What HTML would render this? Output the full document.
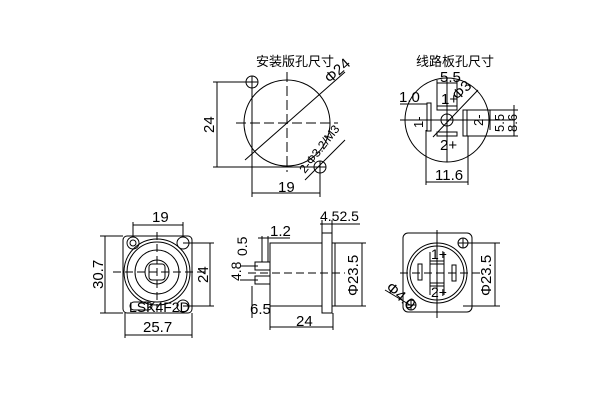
<!DOCTYPE html>
<html><head><meta charset="utf-8"><style>
html,body{margin:0;padding:0;background:#fff;width:600px;height:400px;overflow:hidden}
text{font-family:"Liberation Sans","Noto Sans CJK SC",sans-serif;fill:#000}
</style></head><body>
<svg width="600" height="400" viewBox="0 0 600 400" xmlns="http://www.w3.org/2000/svg">
<g stroke="#000" stroke-width="1" fill="none">
<!-- Panel 1 -->
<circle cx="287" cy="123" r="43"/>
<circle cx="252" cy="82" r="6"/><circle cx="320" cy="167" r="6"/>
<path d="M246 82h12M252 76v12M314 167h12M320 161v12"/>
<line x1="287" y1="72" x2="287" y2="172" stroke-dasharray="10,4"/>
<line x1="236" y1="123" x2="338" y2="123" stroke-dasharray="10,4"/>
<line x1="245" y1="160" x2="345" y2="72"/>
<line x1="305" y1="180" x2="345" y2="140"/>
<line x1="213" y1="82" x2="250" y2="82"/><line x1="213" y1="167" x2="316" y2="167"/>
<line x1="217" y1="82" x2="217" y2="167"/>
<line x1="252" y1="88" x2="252" y2="197"/><line x1="320" y1="173" x2="320" y2="197"/>
<line x1="252" y1="193" x2="320" y2="193"/>
<!-- Panel 2 -->
<circle cx="447" cy="120" r="42"/>
<circle cx="447" cy="120" r="6"/>
<line x1="400" y1="120" x2="515" y2="120"/>
<line x1="447" y1="78" x2="447" y2="162"/>
<rect x="427" y="103" width="4" height="28"/><rect x="463" y="110" width="4" height="26"/>
<rect x="437" y="106" width="20" height="4"/><rect x="437" y="132" width="20" height="4"/>
<line x1="433" y1="137" x2="478" y2="90"/>
<line x1="437" y1="80" x2="437" y2="106"/><line x1="457" y1="80" x2="457" y2="106"/>
<line x1="437" y1="83" x2="457" y2="83"/>
<line x1="400" y1="104" x2="427" y2="104"/>
<line x1="426" y1="130" x2="426" y2="185"/><line x1="468" y1="136" x2="468" y2="185"/>
<line x1="426" y1="182" x2="468" y2="182"/>
<line x1="467" y1="110" x2="518" y2="110"/><line x1="467" y1="136" x2="518" y2="136"/>
<line x1="490" y1="110" x2="490" y2="130"/><line x1="514" y1="105" x2="514" y2="136"/>
<!-- Panel 3 -->
<rect x="123" y="236" width="69" height="77" rx="4"/>
<circle cx="157" cy="272" r="33"/><circle cx="157" cy="272" r="30"/>
<circle cx="157" cy="272" r="22"/><circle cx="157" cy="272" r="12"/>
<rect x="149" y="264" width="16" height="16" rx="3"/>
<circle cx="133" cy="243" r="6"/><circle cx="133" cy="243" r="3"/>
<circle cx="183" cy="243" r="6"/><circle cx="183" cy="306" r="6"/>
<rect x="130" y="302" width="22" height="8" rx="4"/>
<line x1="113" y1="272" x2="205" y2="272" stroke-dasharray="8,4"/>
<line x1="157" y1="232" x2="157" y2="312" stroke-dasharray="8,4"/>
<line x1="100" y1="236" x2="123" y2="236"/><line x1="100" y1="313" x2="123" y2="313"/>
<line x1="105" y1="236" x2="105" y2="313"/>
<line x1="183" y1="243" x2="214" y2="243"/><line x1="183" y1="306" x2="214" y2="306"/>
<line x1="210" y1="243" x2="210" y2="306"/>
<line x1="133" y1="222" x2="133" y2="237"/><line x1="183" y1="222" x2="183" y2="237"/>
<line x1="133" y1="225" x2="183" y2="225"/>
<line x1="125" y1="313" x2="125" y2="338"/><line x1="192" y1="313" x2="192" y2="338"/>
<line x1="125" y1="335" x2="192" y2="335"/>
<!-- Panel 4 side -->
<rect x="270" y="243" width="52" height="63"/>
<rect x="322" y="233" width="10" height="80"/>
<rect x="332" y="243" width="3" height="63"/>
<rect x="255" y="262" width="15" height="8"/><rect x="255" y="276" width="15" height="8"/>
<line x1="248" y1="273" x2="345" y2="273" stroke-dasharray="8,4"/>
<line x1="262" y1="236" x2="262" y2="262"/><line x1="268" y1="236" x2="268" y2="262"/>
<line x1="258" y1="238" x2="290" y2="238"/>
<line x1="240" y1="266" x2="258" y2="266"/><line x1="240" y1="280" x2="258" y2="280"/>
<line x1="252" y1="286" x2="252" y2="318"/>
<line x1="270" y1="306" x2="270" y2="330"/><line x1="333" y1="313" x2="333" y2="330"/>
<line x1="270" y1="327" x2="333" y2="327"/>
<line x1="322" y1="220" x2="322" y2="233"/><line x1="332" y1="220" x2="332" y2="233"/>
<line x1="320" y1="224" x2="360" y2="224"/>
<line x1="335" y1="243" x2="366" y2="243"/><line x1="335" y1="306" x2="366" y2="306"/>
<line x1="362" y1="243" x2="362" y2="306"/>
<!-- Panel 5 -->
<rect x="403" y="233" width="69" height="79" rx="5"/>
<circle cx="437" cy="273" r="30"/><circle cx="437" cy="273" r="27"/>
<circle cx="463" cy="243" r="5"/><circle cx="411" cy="305" r="5"/>
<path d="M458 243h10M463 238v10M406 305h10M411 300v10"/>
<line x1="437" y1="230" x2="437" y2="318"/>
<line x1="400" y1="273" x2="480" y2="273" stroke-dasharray="8,4"/>
<line x1="430" y1="252" x2="430" y2="295"/><line x1="444" y1="252" x2="444" y2="295"/>
<rect x="430" y="261" width="14" height="3"/><rect x="430" y="283" width="14" height="3"/>
<rect x="418" y="264" width="4" height="16"/><rect x="452" y="265" width="4" height="16"/>
<line x1="385" y1="290" x2="410" y2="305"/>
<line x1="463" y1="243" x2="500" y2="243"/><line x1="463" y1="306" x2="500" y2="306"/>
<line x1="495" y1="243" x2="495" y2="306"/>
</g>
<g font-size="15">
<text x="256" y="66" font-size="13">安装版孔尺寸</text>
<text x="330" y="84" transform="rotate(-42 330 84)">Φ24</text>
<text x="305" y="174" font-size="12" transform="rotate(-52 305 174)">2-Φ3.2/M3</text>
<text x="214" y="133" transform="rotate(-90 214 133)">24</text>
<text x="278" y="192">19</text>
<text x="416" y="66" font-size="13">线路板孔尺寸</text>
<text x="440" y="82">5.5</text>
<text x="399" y="102">1.0</text>
<text x="441" y="104">1+</text>
<text x="458" y="101" transform="rotate(-45 458 101)">Φ3</text>
<text x="423" y="128" font-size="13" transform="rotate(-90 423 128)">1-</text>
<text x="483" y="126" font-size="13" transform="rotate(-90 483 126)">2-</text>
<text x="504" y="132" font-size="13" transform="rotate(-90 504 132)">5.5</text>
<text x="517" y="132" font-size="13" transform="rotate(-90 517 132)">8.6</text>
<text x="440" y="150">2+</text>
<text x="435" y="180">11.6</text>
<text x="152" y="222">19</text>
<text x="103" y="289" transform="rotate(-90 103 289)">30.7</text>
<text x="208" y="283" transform="rotate(-90 208 283)">24</text>
<text x="129" y="312" font-size="14">LSK4F2D</text>
<text x="143" y="332">25.7</text>
<text x="270" y="236">1.2</text>
<text x="247" y="256" font-size="14" transform="rotate(-90 247 256)">0.5</text>
<text x="241" y="281" font-size="14" transform="rotate(-90 241 281)">4.8</text>
<text x="250" y="314">6.5</text>
<text x="296" y="326">24</text>
<text x="320" y="221" font-size="14">4.52.5</text>
<text x="358" y="296" transform="rotate(-90 358 296)">Φ23.5</text>
<text x="431" y="259" font-size="14">1+</text>
<text x="431" y="297" font-size="14">2+</text>
<text x="385" y="289" transform="rotate(40 385 289)">Φ4.0</text>
<text x="491" y="296" transform="rotate(-90 491 296)">Φ23.5</text>
</g>
</svg>
</body></html>
